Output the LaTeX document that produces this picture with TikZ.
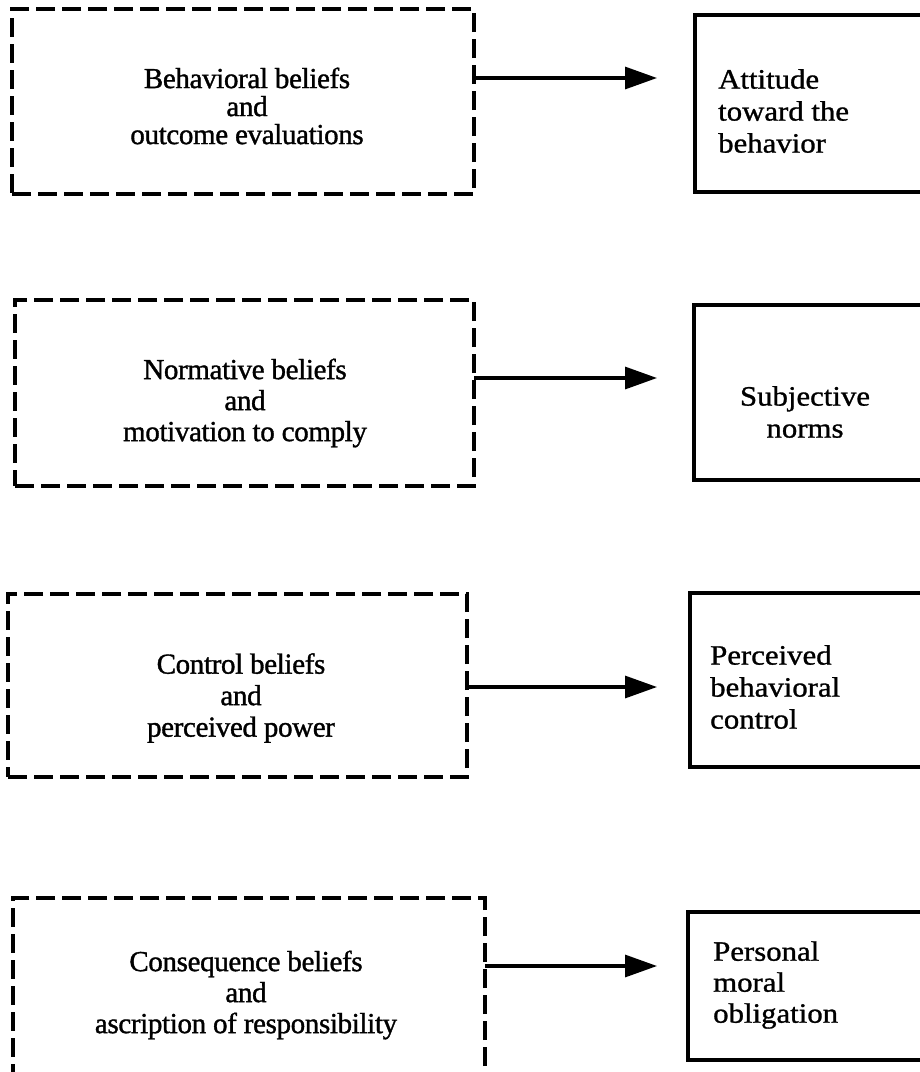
\documentclass[tikz,border=0pt]{standalone}
\usepackage{fontspec}
\setmainfont{Liberation Serif}
\newfontfamily\lfont[FakeBold=1.2,LetterSpace=-1.2]{Liberation Serif}
\newfontfamily\rfont[FakeStretch=1.1,FakeBold=1.0]{Liberation Serif}
\usetikzlibrary{arrows.meta}
\begin{document}
\begin{tikzpicture}[x=1pt,y=-1pt,
  dbox/.style={draw=black, line width=3.4pt, dash pattern=on 19pt off 7pt,
    inner sep=0pt, outer sep=0pt},
  sbox/.style={draw=black, line width=3.4pt, inner sep=0pt, outer sep=0pt},
  ltext/.style={inner sep=0pt, align=center, text=black},
  rtext/.style={inner sep=0pt, text=black},
  conn/.style={draw=black, line width=3.2pt, -{Triangle[length=32pt,width=22pt]}}]
\useasboundingbox (0,0) rectangle (920,1072);
\clip (0,0) rectangle (920,1072);
\fill[white] (0,0) rectangle (920,1072);

% left dashed boxes
\node[dbox, minimum width=462pt, minimum height=185pt] (L1) at (243,101.5) {};
\node[dbox, minimum width=459pt, minimum height=186pt] (L2) at (244.5,393) {};
\node[dbox, minimum width=459pt, minimum height=183pt] (L3) at (237.5,685.5) {};
\node[dbox, minimum width=472pt, minimum height=190pt] (L4) at (249,993) {};

% left texts
\node[ltext, font=\lfont\fontsize{29}{28}\selectfont] (T1) at (247,106)
  {Behavioral beliefs\\and\\outcome evaluations};
\node[ltext, font=\lfont\fontsize{29}{31}\selectfont] (T2) at (245,403)
  {Normative beliefs\\and\\motivation to comply};
\node[ltext, font=\lfont\fontsize{29}{31.5}\selectfont] (T3) at (241,698)
  {Control beliefs\\and\\perceived power};
\node[ltext, font=\lfont\fontsize{29}{31}\selectfont] (T4) at (246,995)
  {Consequence beliefs\\and\\ascription of responsibility};

% right solid boxes
\node[sbox, minimum width=245pt, minimum height=177pt] (R1) at (817.5,103.5) {};
\node[sbox, minimum width=246pt, minimum height=175pt] (R2) at (817,392.5) {};
\node[sbox, minimum width=250pt, minimum height=174pt] (R3) at (815,680) {};
\node[sbox, minimum width=252pt, minimum height=148pt] (R4) at (814,986) {};

% right texts
\node[rtext, anchor=west, align=left, font=\rfont\fontsize{28}{32}\selectfont] (U1) at (718,111)
  {Attitude\\toward the\\behavior};
\node[rtext, align=center, font=\rfont\fontsize{28}{32}\selectfont] (U2) at (805,412)
  {Subjective\\norms};
\node[rtext, anchor=west, align=left, font=\rfont\fontsize{28}{32}\selectfont] (U3) at (710,687)
  {Perceived\\behavioral\\control};
\node[rtext, anchor=west, align=left, font=\rfont\fontsize{28}{31}\selectfont] (U4) at (713,985)
  {Personal\\moral\\obligation};

% arrow tips
\coordinate (a1) at (657,78);
\coordinate (a2) at (657,378);
\coordinate (a3) at (657,687);
\coordinate (a4) at (657,966);

\draw[conn] (L1.east |- a1) -- (a1);
\draw[conn] (L2.east |- a2) -- (a2);
\draw[conn] (L3.east |- a3) -- (a3);
\draw[conn] (L4.east |- a4) -- (a4);
\end{tikzpicture}
\end{document}
